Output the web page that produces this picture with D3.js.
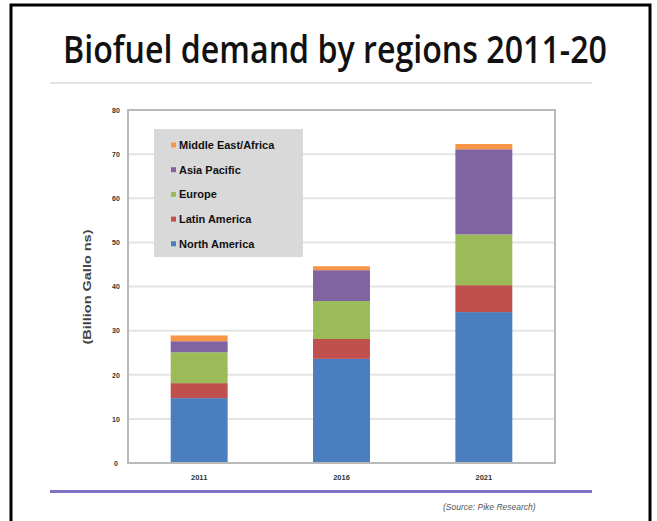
<!DOCTYPE html>
<html>
<head>
<meta charset="utf-8">
<script src="https://cdn.jsdelivr.net/npm/d3@7"></script>
<style>
  html, body { margin: 0; padding: 0; background: #fff; }
  svg { display: block; }
</style>
</head>
<body>
<svg id="chart" width="657" height="521"></svg>
<script>
// Biofuel demand (billion gallons) by region, stacked per year
const years = ["2011", "2016", "2021"];
const regions = ["North America", "Latin America", "Europe", "Asia Pacific", "Middle East/Africa"];
const northAmerica = [14.7, 23.6, 34.2];
const latinAmerica = [3.4, 4.5, 6.1];
const europe = [7.0, 8.6, 11.5];
const asiaPacific = [2.5, 7.0, 19.3];
const middleEastAfrica = [1.3, 0.9, 1.2];
const yTicks = [0, 10, 20, 30, 40, 50, 60, 70, 80];
const regionColors = ["#4a7ebf", "#c0504d", "#9bbb59", "#8064a2", "#f79646"];

const seriesValues = [northAmerica, latinAmerica, europe, asiaPacific, middleEastAfrica];
const rows = years.map((yr, i) => {
  const r = { year: yr };
  regions.forEach((reg, k) => { r[reg] = seriesValues[k][i]; });
  return r;
});

const svg = d3.select("#chart");

// outer frame (open at the bottom)
svg.append("path")
  .attr("d", "M11,521 V5 H650 V521")
  .attr("fill", "none").attr("stroke", "#000").attr("stroke-width", 3);

// title, condensed horizontally to span 544px
const title = svg.append("text")
  .attr("text-anchor", "middle")
  .attr("font-family", "'Open Sans', 'Noto Sans', sans-serif")
  .attr("font-size", 37).attr("font-weight", 600)
  .attr("fill", "#111")
  .text("Biofuel demand by regions 2011-20");
const titleWidth = title.node().getComputedTextLength();
title.attr("transform", `translate(335,63) scale(${544 / titleWidth},1)`);

// faint rule under the title
svg.append("line")
  .attr("x1", 50).attr("x2", 592).attr("y1", 83).attr("y2", 83)
  .attr("stroke", "#e2e2e6").attr("stroke-width", 2);

const plot = { left: 128, right: 555, top: 110, bottom: 463 };

const x = d3.scaleBand().domain(years)
  .range([plot.left, plot.right]).paddingInner(0.6).paddingOuter(0.3);
const y = d3.scaleLinear().domain([0, 80]).range([plot.bottom, plot.top]);

// gridlines
svg.append("g").selectAll("line").data(yTicks.filter(t => t > 0)).join("line")
  .attr("x1", plot.left).attr("x2", plot.right)
  .attr("y1", d => y(d)).attr("y2", d => y(d))
  .attr("stroke", "#e4e4e4").attr("stroke-width", 2);

// stacked bars
const stack = d3.stack().keys(regions)(rows);
svg.append("g").selectAll("g").data(stack).join("g")
  .attr("fill", (d, i) => regionColors[i])
  .selectAll("rect").data(d => d).join("rect")
  .attr("x", d => x(d.data.year))
  .attr("width", x.bandwidth())
  .attr("y", d => y(d[1]))
  .attr("height", d => y(d[0]) - y(d[1]));

// plot frame
svg.append("rect")
  .attr("x", plot.left).attr("y", plot.top)
  .attr("width", plot.right - plot.left).attr("height", plot.bottom - plot.top)
  .attr("fill", "none").attr("stroke", "#b9b9b9").attr("stroke-width", 2);

// y axis ticks
const yAxis = svg.append("g")
  .attr("transform", `translate(${plot.left},0)`)
  .call(d3.axisLeft(y).tickValues(yTicks).tickSize(0).tickPadding(12));
yAxis.select(".domain").remove();
yAxis.selectAll("text")
  .attr("font-family", "'Liberation Sans', Arial, sans-serif")
  .attr("font-size", 7).attr("font-weight", "bold").attr("fill", "#333")
  .attr("text-anchor", "middle");

// x axis labels
const xAxis = svg.append("g")
  .attr("transform", `translate(0,${plot.bottom})`)
  .call(d3.axisBottom(x).tickSize(0).tickPadding(12));
xAxis.select(".domain").remove();
xAxis.selectAll("text")
  .attr("font-family", "'Liberation Sans', Arial, sans-serif")
  .attr("font-size", 7.5).attr("font-weight", "bold").attr("fill", "#333");

// y axis title
svg.append("text")
  .attr("transform", "translate(91,287) rotate(-90)")
  .attr("text-anchor", "middle")
  .attr("font-family", "'Liberation Sans', Arial, sans-serif")
  .attr("font-size", 10).attr("font-weight", "bold").attr("fill", "#444")
  .attr("textLength", 115).attr("lengthAdjust", "spacingAndGlyphs")
  .text("(Billion Gallo ns)");

// legend
const legend = svg.append("g");
legend.append("rect")
  .attr("x", 154).attr("y", 129).attr("width", 149).attr("height", 128)
  .attr("fill", "#d9d9d9");
const legendOrder = regions.map((r, i) => ({ name: r, color: regionColors[i] })).reverse();
const items = legend.selectAll("g.item").data(legendOrder).join("g")
  .attr("class", "item")
  .attr("transform", (d, i) => `translate(0,${145 + i * 24.7})`);
items.append("rect")
  .attr("x", 171).attr("y", -2.5).attr("width", 5).attr("height", 5)
  .attr("fill", d => d.color);
items.append("text")
  .attr("x", 179).attr("y", 4)
  .attr("font-family", "'Liberation Sans', Arial, sans-serif")
  .attr("font-size", 11).attr("font-weight", "bold").attr("fill", "#111")
  .text(d => d.name);

// bottom rule and source note
svg.append("line")
  .attr("x1", 50).attr("x2", 592).attr("y1", 491.5).attr("y2", 491.5)
  .attr("stroke", "#7d74c6").attr("stroke-width", 3);
svg.append("text")
  .attr("x", 443).attr("y", 510)
  .attr("font-family", "'Liberation Sans', Arial, sans-serif")
  .attr("font-size", 8.5).attr("font-style", "italic").attr("fill", "#555")
  .text("(Source: Pike Research)");
</script>
</body>
</html>
